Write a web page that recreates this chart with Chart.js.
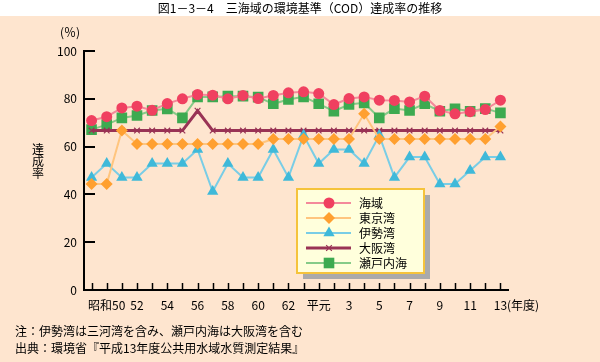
<!DOCTYPE html>
<html>
<head>
<meta charset="utf-8">
<script src="https://cdn.jsdelivr.net/npm/chart.js@4.4.1/dist/chart.umd.min.js"></script>
<style>
html, body { margin: 0; padding: 0; background: #fff; }
canvas { display: block; }
</style>
</head>
<body>
<canvas id="chart" width="600" height="362"></canvas>
<script>
const years = ['昭和49','昭和50','昭和51','昭和52','昭和53','昭和54','昭和55','昭和56','昭和57','昭和58',
  '昭和59','昭和60','昭和61','昭和62','昭和63','平成元','平成2','平成3','平成4','平成5',
  '平成6','平成7','平成8','平成9','平成10','平成11','平成12','平成13'];
const tickLabels = ['','昭和50','','52','','54','','56','','58','','60','','62','','平元',
  '','3','','5','','7','','9','','11','','13'];

const kaiiki = [70.9,72.5,76.2,76.9,75.2,78.0,80.0,81.8,81.5,80.0,81.4,80.1,81.4,82.5,82.9,82.2,
  77.6,80.1,80.8,79.4,79.3,78.7,81.1,75.1,73.7,74.6,75.5,79.4];
const tokyo = [44.4,44.4,66.7,61.1,61.1,61.1,61.1,61.1,61.1,61.1,61.1,61.1,63.2,63.2,63.2,63.2,
  63.2,63.2,73.7,63.2,63.2,63.2,63.2,63.2,63.2,63.2,63.2,68.4];
const ise = [47.1,52.9,47.1,47.1,52.9,52.9,52.9,58.8,41.2,52.9,47.1,47.1,58.8,47.1,64.7,52.9,
  58.8,58.8,52.9,64.7,47.1,55.6,55.6,44.4,44.4,50.0,55.6,55.6];
const osaka = [66.7,66.7,66.7,66.7,66.7,66.7,66.7,75.0,66.7,66.7,66.7,66.7,66.7,66.7,66.7,66.7,
  66.7,66.7,66.7,66.7,66.7,66.7,66.7,66.7,66.7,66.7,66.7,66.7];
const setonaikai = [67.1,69.2,72.0,73.0,75.1,75.8,72.0,80.8,80.8,81.1,81.1,80.7,77.9,79.7,80.8,77.9,
  74.8,77.6,78.3,72.0,75.9,75.1,77.9,74.8,75.8,74.8,75.9,74.1];

const FONT = "'Noto Sans CJK JP', 'Noto Sans', sans-serif";
Chart.defaults.font.family = FONT;
Chart.defaults.font.size = 12;
Chart.defaults.color = '#000';

function series(label, data, line, mark, style, radius, width) {
  return {
    label, data,
    borderColor: line,
    borderWidth: width || 2,
    pointStyle: style,
    pointRadius: radius,
    pointHoverRadius: radius,
    pointBackgroundColor: mark,
    pointBorderColor: mark,
    pointBorderWidth: style === 'crossRot' ? 1.2 : 0,
    tension: 0,
    fill: false
  };
}

const decor = {
  id: 'decor',
  beforeDraw(chart) {
    const ctx = chart.ctx;
    ctx.save();
    ctx.fillStyle = '#FEE5CF';
    ctx.fillRect(0, 0, chart.width, chart.height);
    ctx.fillStyle = '#fff';
    ctx.fillRect(0, 0, chart.width, 16);
    ctx.restore();
  },
  afterDraw(chart) {
    const ctx = chart.ctx;
    const xs = chart.scales.x, ys = chart.scales.y;
    const area = chart.chartArea;
    ctx.save();
    // inward tick marks
    ctx.strokeStyle = '#000';
    ctx.lineWidth = 2;
    ys.ticks.forEach(t => {
      if (t.value === 0) return;
      const y = Math.round(ys.getPixelForValue(t.value));
      ctx.beginPath();
      ctx.moveTo(area.left, y);
      ctx.lineTo(area.left + 11, y);
      ctx.stroke();
    });
    ctx.lineWidth = 1.5;
    years.forEach((_, i) => {
      const x = Math.round(xs.getPixelForValue(i)) + 0.5;
      ctx.beginPath();
      ctx.moveTo(x, area.bottom);
      ctx.lineTo(x, area.bottom - 7);
      ctx.stroke();
    });

    // texts
    ctx.fillStyle = '#000';
    ctx.font = '12px ' + FONT;
    ctx.textBaseline = 'middle';
    ctx.textAlign = 'center';
    ctx.fillText('図1－3－4　三海域の環境基準（COD）達成率の推移', 300, 8);
    ctx.fillText('(％)', 70, 32);
    ['達', '成', '率'].forEach((c, i) => ctx.fillText(c, 38, 149 + i * 12));
    ctx.textAlign = 'left';
    ctx.fillText('(年度)', 507, 305);
    ctx.fillText('注：伊勢湾は三河湾を含み、瀬戸内海は大阪湾を含む', 15, 331);
    ctx.fillText('出典：環境省『平成13年度公共用水域水質測定結果』', 15, 348);

    // legend
    const bx = 297, by = 189, bw = 127, bh = 84;
    ctx.fillStyle = '#AAAAAA';
    ctx.fillRect(bx + 6, by + 6, bw, bh);
    ctx.fillStyle = '#FFFFDC';
    ctx.fillRect(bx, by, bw, bh);
    ctx.strokeStyle = '#F5C33B';
    ctx.lineWidth = 2;
    ctx.strokeRect(bx, by, bw, bh);
    chart.data.datasets.forEach((ds, i) => {
      const y = 203 + i * 15;
      ctx.strokeStyle = ds.borderColor;
      ctx.lineWidth = ds.borderWidth;
      ctx.beginPath();
      ctx.moveTo(306, y);
      ctx.lineTo(351, y);
      ctx.stroke();
      ctx.fillStyle = ds.pointBackgroundColor;
      ctx.strokeStyle = ds.pointBorderColor;
      ctx.lineWidth = ds.pointBorderWidth;
      Chart.helpers.drawPoint(ctx, {
        pointStyle: ds.pointStyle, radius: ds.pointRadius,
        rotation: 0, borderWidth: ds.pointBorderWidth
      }, 329, y);
      ctx.fillStyle = '#000';
      ctx.fillText(ds.label, 359, y);
    });
    ctx.restore();
  }
};

new Chart(document.getElementById('chart'), {
  type: 'line',
  data: {
    labels: years,
    datasets: [
      series('海域', kaiiki, '#F4899A', '#F04060', 'circle', 5.5),
      series('東京湾', tokyo, '#FFC57E', '#FFA030', 'rectRot', 6),
      series('伊勢湾', ise, '#79CDE6', '#3FB9D9', 'triangle', 6.5),
      series('大阪湾', osaka, '#993355', '#993355', 'crossRot', 4, 3),
      series('瀬戸内海', setonaikai, '#86CB88', '#3DAA50', 'rect', 7.5)
    ]
  },
  options: {
    responsive: false,
    animation: false,
    layout: { padding: { left: 0, right: 92, top: 51, bottom: 0 } },
    plugins: { legend: { display: false }, tooltip: { enabled: false } },
    scales: {
      x: {
        type: 'category',
        offset: true,
        grid: { display: false, drawTicks: false },
        border: { display: true, color: '#000', width: 2 },
        ticks: {
          autoSkip: false, maxRotation: 0, minRotation: 0, padding: 8,
          callback: (v, i) => tickLabels[i]
        },
        afterFit(s) { s.height = 72; s.paddingLeft = 0; s.paddingRight = 0; }
      },
      y: {
        min: 0, max: 100,
        grid: { display: false, drawTicks: false },
        border: { display: true, color: '#000', width: 2 },
        ticks: { stepSize: 20, padding: 7 },
        afterFit(s) { s.width = 84; }
      }
    }
  },
  plugins: [decor]
});
</script>
</body>
</html>
